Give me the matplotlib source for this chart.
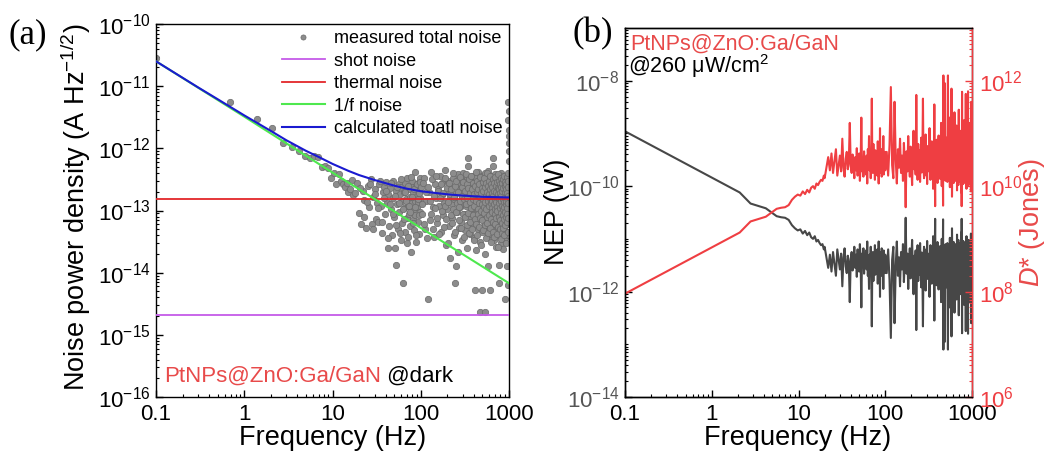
import numpy as np
import matplotlib.pyplot as plt
from matplotlib.ticker import LogLocator, FixedLocator, FuncFormatter, NullFormatter

plt.rcParams['font.family'] = ['Liberation Sans', 'DejaVu Sans']
plt.rcParams['mathtext.fontset'] = 'custom'
plt.rcParams['mathtext.rm'] = 'Liberation Sans'
plt.rcParams['mathtext.it'] = 'Liberation Sans:italic'
plt.rcParams['mathtext.bf'] = 'Liberation Sans:bold'
plt.rcParams['axes.linewidth'] = 1.0

# ---------------- panel (a): noise spectra (log10 values) ----------------
scat_low_f = [0.1, 0.69, 1.38, 2.07, 2.76, 3.45, 4.14, 4.83, 5.52, 6.21, 6.9, 7.59, 8.28,
              8.97, 9.66, 10.35, 11.04, 11.73, 12.42, 13.11, 13.8, 14.49, 15.18, 15.87,
              16.56, 17.25]
scat_low = [-10.55, -11.26, -11.53, -11.68, -11.91, -11.98, -12.05, -12.13, -12.16, -12.12,
            -12.14, -12.30, -12.28, -12.32, -12.47, -12.40, -12.57, -12.41, -12.52, -12.58,
            -12.62, -12.55, -12.71, -12.66, -12.51, -12.75]

# 18..99 Hz, 1 Hz step
scat_mid = [-12.72, -12.55, -13.04, -13.22, -12.68, -12.83, -13.28, -12.60, -12.95, -12.50, -13.22, -12.78, -12.66, -13.13, -12.88,
            -13.18, -12.58, -12.92, -13.36, -12.70, -12.62, -13.05, -12.54, -12.86, -13.60, -12.74, -13.25, -12.64, -12.98, -13.40,
            -12.80, -12.52, -13.10, -13.61, -12.68, -13.87, -12.90, -13.30, -12.58, -13.02, -12.74, -13.48, -12.62, -12.85, -13.20,
            -14.17, -12.70, -12.96, -13.35, -12.56, -12.82, -13.12, -12.48, -12.92, -13.42, -12.66, -13.05, -12.78, -13.25, -12.60,
            -13.66, -12.88, -12.52, -13.15, -12.72, -12.98, -13.32, -12.38, -12.84, -13.08, -12.62, -13.50, -12.76, -12.94, -13.18,
            -12.56, -12.86, -13.38, -12.68, -13.02, -12.80, -12.48]
# 20.5..98.5 Hz, 2 Hz step
scat_mid2 = [-12.64, -13.10, -12.86, -12.58, -13.30, -12.74, -12.96, -12.52, -13.18, -12.80,
             -12.68, -13.44, -12.90, -12.56, -13.06, -12.76, -13.24, -12.62, -12.88, -13.36,
             -12.50, -12.98, -13.14, -12.70, -12.84, -13.52, -12.60, -12.92, -13.02, -12.46,
             -12.78, -13.20, -12.66, -12.94, -13.40, -12.58, -12.82, -13.08, -12.72, -12.54]

# 100..996 Hz, 4 Hz step
scat_high = [-12.62, -13.05, -12.48, -13.30, -12.85, -14.43, -12.70, -13.15, -12.38, -12.95, -13.42, -12.58, -12.80, -13.20, -12.66,
             -12.92, -12.45, -13.35, -12.75, -12.55, -13.08, -12.88, -12.35, -13.55, -12.68, -12.98, -12.52, -13.25, -12.78, -13.76,
             -12.60, -12.90, -13.12, -12.48, -12.82, -13.40, -14.17, -12.72, -13.90, -12.57, -13.02, -12.42, -12.86, -13.28, -12.65,
             -12.95, -12.50, -13.18, -12.76, -13.48, -12.62, -12.40, -13.05, -12.84, -12.55, -13.32, -12.70, -12.92, -13.60, -12.46,
             -12.16, -12.29, -12.88, -13.10, -12.58, -12.78, -13.38, -12.52, -12.98, -12.68, -13.22, -12.44, -12.90, -13.05, -12.62,
             -12.82, -13.45, -12.55, -14.28, -12.74, -13.63, -12.48, -12.96, -13.15, -12.66, -12.38, -13.30, -12.86, -12.58, -13.02,
             -12.72, -13.50, -14.64, -12.90, -12.52, -13.12, -12.80, -14.28, -12.62, -13.35, -12.45, -12.94, -13.08, -12.70, -12.55,
             -13.25, -12.84, -12.40, -13.70, -14.64, -12.76, -12.98, -13.18, -12.60, -12.88, -13.42, -12.50, -12.92, -13.89, -12.68,
             -12.36, -13.06, -12.82, -12.56, -13.28, -12.72, -12.95, -14.28, -12.62, -13.15, -12.48, -12.86, -13.38, -12.70, -12.58,
             -13.00, -12.44, -13.22, -12.78, -12.16, -12.29, -13.10, -12.64, -12.90, -13.48, -12.54, -12.80, -13.05, -12.42, -12.96,
             -12.68, -13.32, -12.58, -12.84, -13.58, -12.74, -12.50, -13.12, -12.92, -12.62, -13.25, -12.46, -12.88, -13.02, -12.70,
             -12.56, -13.40, -13.87, -14.17, -12.78, -12.94, -13.15, -12.52, -12.86, -13.30, -12.66, -12.40, -13.08, -12.82, -13.52,
             -12.60, -12.90, -13.20, -12.48, -12.76, -13.36, -12.64, -12.98, -13.10, -12.54, -12.84, -13.62, -12.72, -12.45, -13.05,
             -12.88, -13.28, -12.58, -12.70, -13.45, -14.43, -12.80, -12.96, -13.18, -12.50, -12.92, -13.34, -12.62, -12.78, -13.08,
             -12.44, -13.90, -12.86, -12.68, -13.22, -12.55, -13.00, -12.74, -13.40, -14.20, -11.26, -11.55, -11.70, -11.92, -12.05]
# 102..998 Hz, 4 Hz step
scat_high2 = [-12.90, -12.55, -13.22, -12.70, -13.45, -12.62, -12.84, -13.05, -12.50, -13.30, -12.76, -12.96, -12.44, -13.12, -12.68,
              -13.38, -12.80, -12.58, -13.00, -12.72, -13.26, -12.48, -12.92, -13.14, -12.64, -12.86, -13.52, -12.56, -12.74, -13.08,
              -12.66, -13.20, -12.40, -12.98, -12.78, -13.34, -12.60, -13.02, -12.52, -12.88, -13.66, -12.70, -12.94, -13.16, -12.46,
              -12.84, -13.28, -12.62, -12.76, -13.06, -12.54, -13.42, -12.82, -12.68, -13.10, -12.42, -12.90, -13.24, -12.58, -12.80,
              -13.04, -12.64, -13.36, -12.50, -12.86, -13.18, -12.72, -12.96, -12.44, -13.30, -12.66, -12.82, -13.08, -12.56, -13.48,
              -12.74, -12.92, -13.14, -12.60, -12.38, -13.22, -12.84, -12.70, -13.40, -12.52, -12.98, -13.06, -12.66, -12.88, -13.26,
              -12.58, -12.78, -13.12, -12.46, -13.00, -12.72, -13.56, -12.64, -12.90, -13.16, -12.54, -12.82, -13.32, -12.68, -12.94,
              -13.04, -12.48, -12.86, -13.24, -12.62, -12.76, -13.44, -12.56, -12.98, -13.10, -12.70, -12.40, -13.20, -12.84, -12.60,
              -13.36, -12.74, -12.92, -12.52, -13.08, -12.66, -13.28, -12.80, -12.44, -13.14, -12.88, -12.58, -13.50, -12.72, -12.96,
              -12.62, -13.02, -12.84, -13.34, -12.50, -12.76, -13.18, -12.68, -12.90, -13.42, -12.56, -12.82, -13.06, -12.46, -12.98,
              -13.22, -12.70, -12.60, -13.12, -12.86, -12.54, -13.38, -12.78, -12.94, -13.00, -12.64, -12.42, -13.26, -12.74, -13.58,
              -12.88, -12.52, -13.10, -12.66, -12.80, -13.30, -12.58, -12.96, -13.16, -12.72, -12.48, -13.04, -12.84, -13.46, -12.62,
              -12.76, -13.20, -12.56, -12.92, -13.36, -12.68, -12.82, -13.08, -12.50, -12.98, -13.28, -12.64, -12.86, -13.14, -12.44,
              -12.94, -13.40, -12.60, -12.78, -13.02, -12.70, -13.24, -12.54, -12.90, -13.52, -12.66, -12.84, -13.10, -12.58, -12.96,
              -13.18, -12.72, -12.46, -13.06, -12.80, -13.34, -12.62, -12.88, -13.12, -12.52, -12.76, -12.40, -11.40, -11.80, -12.20]

shot_f = [0.1, 1000]
shot = [-14.68, -14.68]
thermal_f = [0.1, 1000]
thermal = [-12.82, -12.82]
flicker_f = [0.1, 1, 10, 100, 1000]
flicker = [-10.60, -11.49, -12.39, -13.28, -14.17]
total_f = [0.1, 0.3, 0.5, 1, 2, 3, 5, 7, 10, 15, 20, 30, 50, 70, 100, 200, 300, 500, 1000]
total = [-10.60, -11.02, -11.21, -11.47, -11.72, -11.87, -12.04, -12.14, -12.25, -12.36, -12.43,
         -12.51, -12.60, -12.65, -12.69, -12.74, -12.76, -12.78, -12.79]

# ---------------- panel (b): NEP (log10 W) ----------------
nep_low_f = [0.1, 2.1, 2.8, 3.5, 4.2, 4.9, 5.6, 6.3, 7.0, 7.7, 8.4, 9.1, 9.8, 10.5, 11.2, 11.9,
             12.6, 13.3, 14.0, 14.7, 15.4, 16.1, 16.8, 17.5, 18.2, 18.9, 19.6]
nep_low = [-8.96, -10.12, -10.33, -10.38, -10.42, -10.50, -10.57, -10.59, -10.60, -10.64, -10.74,
           -10.80, -10.84, -10.82, -10.90, -10.85, -10.93, -10.88, -10.97, -11.00, -10.95, -11.05,
           -11.02, -11.08, -11.12, -11.10, -11.20]

# 20..99 Hz, 1 Hz step
nep_mid = [-11.15, -11.35, -11.55, -11.30, -11.62, -11.25, -11.48, -11.70, -11.20, -11.40,
           -11.58, -11.28, -11.90, -11.35, -11.18, -11.52, -11.65, -11.32, -11.45, -12.20,
           -11.38, -11.25, -11.60, -11.42, -11.15, -11.55, -11.30, -11.72, -11.20, -11.48,
           -11.62, -11.10, -11.40, -12.30, -11.28, -11.50, -11.18, -11.66, -11.35, -11.45,
           -11.22, -11.58, -11.05, -11.70, -11.38, -11.95, -11.30, -11.52, -11.15, -11.62,
           -12.66, -11.40, -11.25, -11.80, -11.33, -11.55, -11.12, -11.68, -11.45, -11.28,
           -11.60, -11.20, -11.85, -11.40, -11.05, -11.55, -11.35, -12.10, -11.25, -11.48,
           -11.70, -11.18, -11.42, -11.62, -11.30, -11.95, -11.22, -11.50, -11.38, -11.65]

# 100..996 Hz, 4 Hz step
nep_high = [-11.30, -11.65, -11.20, -11.78, -12.88, -11.40, -11.15, -12.60, -11.52, -11.05, -11.70, -11.35, -11.90, -11.25, -11.58,
            -11.10, -11.82, -11.42, -10.60, -11.66, -11.28, -11.95, -11.48, -11.18, -11.75, -11.38, -11.02, -11.62, -12.05, -11.32,
            -11.55, -11.22, -12.73, -11.45, -11.12, -11.80, -11.36, -11.68, -11.08, -11.50, -11.92, -11.26, -11.60, -12.66, -11.40,
            -11.15, -11.72, -11.34, -11.98, -11.20, -11.56, -11.04, -11.76, -11.42, -11.64, -11.28, -12.10, -11.46, -11.12, -11.70,
            -11.36, -11.85, -11.24, -11.58, -10.95, -11.66, -11.40, -12.55, -11.30, -10.62, -11.74, -11.50, -11.18, -11.88, -11.44,
            -11.06, -11.62, -11.32, -11.96, -11.22, -11.54, -11.80, -11.14, -11.68, -11.38, -12.20, -11.48, -11.00, -11.72, -11.30,
            -11.58, -10.63, -13.10, -11.42, -11.84, -11.20, -11.64, -12.95, -11.34, -11.10, -11.76, -11.46, -11.92, -11.26, -11.56,
            -11.08, -11.70, -13.10, -11.38, -11.82, -11.16, -11.60, -12.30, -11.44, -10.98, -11.66, -11.28, -11.86, -11.50, -11.22,
            -12.85, -11.62, -10.80, -11.36, -11.78, -11.12, -11.54, -12.00, -11.40, -11.06, -11.74, -11.30, -12.40, -11.48, -11.18,
            -11.68, -11.34, -11.94, -11.10, -11.58, -11.24, -12.15, -11.44, -10.92, -11.72, -11.36, -11.84, -11.20, -11.62, -11.02,
            -11.52, -12.45, -11.28, -11.76, -11.14, -11.66, -11.40, -11.96, -11.08, -11.58, -11.32, -12.05, -11.46, -10.88, -11.70,
            -10.62, -11.38, -12.79, -11.52, -11.16, -11.80, -11.30, -11.64, -11.04, -11.90, -11.42, -11.22, -12.25, -11.56, -11.12,
            -11.74, -11.34, -11.98, -11.18, -11.60, -11.06, -11.82, -12.75, -11.44, -11.26, -11.68, -10.95, -11.50, -11.88, -11.20,
            -11.64, -11.36, -12.10, -11.14, -11.54, -12.80, -11.30, -11.76, -11.02, -11.62, -11.40, -11.94, -11.24, -11.56, -11.10,
            -11.70, -11.32, -12.20, -11.48, -11.06, -11.80, -11.38, -11.64, -10.90, -11.52, -12.60, -11.28, -11.74, -11.16, -11.46]

SQRT_AREA = 0.1  # cm, D* = sqrt(A)/NEP

# ---------------- assemble ----------------
scat_f = np.concatenate([scat_low_f, 18 + np.arange(len(scat_mid)), 20.5 + 2 * np.arange(len(scat_mid2)),
                         100 + 4 * np.arange(len(scat_high)), 102 + 4 * np.arange(len(scat_high2))])
scat_v = 10.0 ** np.concatenate([scat_low, scat_mid, scat_mid2, scat_high, scat_high2])
nep_f = np.concatenate([nep_low_f, 20 + np.arange(len(nep_mid)), 100 + 4 * np.arange(len(nep_high))])
nep = 10.0 ** np.concatenate([nep_low, nep_mid, nep_high])
dstar = SQRT_AREA / nep

W, H = 1048, 454
fig = plt.figure(figsize=(W / 100, H / 100), dpi=100)

def px(x, y):
    return x / W, 1 - y / H

RED_TXT = '#e84a4a'
RED = '#ef3e42'
TICK_FS = 16
LABEL_FS = 19.5


def xfmt(v, pos):
    return {0.1: '0.1', 1: '1', 10: '10', 100: '100', 1000: '1000'}.get(round(v, 3), '')


def style_x(ax):
    ax.set_xscale('log')
    ax.set_xlim(0.1, 1000)
    ax.xaxis.set_major_locator(FixedLocator([0.1, 1, 10, 100, 1000]))
    ax.xaxis.set_major_formatter(FuncFormatter(xfmt))
    ax.xaxis.set_minor_locator(LogLocator(base=10, subs=np.arange(2, 10), numticks=20))
    ax.xaxis.set_minor_formatter(NullFormatter())


# ---------- (a) ----------
axa = fig.add_axes([156 / W, 1 - 397 / H, 353 / W, 373 / H])
axa.set_yscale('log')
style_x(axa)
axa.set_ylim(1e-16, 1e-10)
axa.yaxis.set_major_locator(FixedLocator([1e-16, 1e-15, 1e-14, 1e-13, 1e-12, 1e-11, 1e-10]))
axa.yaxis.set_minor_locator(LogLocator(base=10, subs=np.arange(2, 10), numticks=20))
axa.yaxis.set_minor_formatter(NullFormatter())

axa.plot(scat_f, scat_v, 'o', ms=4.6, mfc='#8c8c8c', mec='#6a6a6a', mew=0.5,
         label='measured total noise', zorder=2)
axa.plot(shot_f, 10.0 ** np.array(shot), color='#c55ae8', lw=1.3, label='shot noise', zorder=3)
axa.plot(thermal_f, 10.0 ** np.array(thermal), color='#e3262a', lw=1.3, label='thermal noise', zorder=3)
axa.plot(flicker_f, 10.0 ** np.array(flicker), color='#4ee84e', lw=1.5, label='1/f noise', zorder=3)
axa.plot(total_f, 10.0 ** np.array(total), color='#1a1ad0', lw=1.5, label='calculated toatl noise', zorder=4)

axa.tick_params(which='both', direction='in', labelsize=TICK_FS)
axa.tick_params(which='major', length=5, width=1)
axa.tick_params(which='minor', length=2.5, width=0.8)
axa.tick_params(axis='x', pad=5)
axa.tick_params(axis='y', pad=4)

axa.legend(loc='upper right', frameon=False, fontsize=13, numpoints=1, handlelength=2.4,
           handletextpad=0.5, labelspacing=0.3, borderaxespad=0.15, borderpad=0.2,
           markerscale=0.8)

t1 = fig.text(*px(164, 382), 'PtNPs@ZnO:Ga/GaN', color=RED_TXT, fontsize=16, va='baseline')
axa.annotate(' @dark', xy=(1, 0), xycoords=t1, va='bottom', ha='left', fontsize=16, color='black')

fig.text(*px(333, 445), 'Frequency (Hz)', fontsize=LABEL_FS, ha='center', va='baseline')
fig.text(*px(76, 207), r'Noise power density (A Hz$^{\mathregular{-1/2}}$)', fontsize=LABEL_FS,
         rotation=90, ha='center', va='center')
fig.text(*px(9, 43), '(a)', fontsize=25, family='Liberation Serif', va='baseline')

# ---------- (b) ----------
axb = fig.add_axes([625 / W, 1 - 397 / H, 347 / W, 369 / H])
axb.set_yscale('log')
style_x(axb)
axb.set_ylim(1e-14, 1e-7)
axb.yaxis.set_major_locator(FixedLocator([1e-14, 1e-12, 1e-10, 1e-8]))
axb.yaxis.set_minor_locator(LogLocator(base=10, subs=np.arange(1, 10), numticks=20))
axb.yaxis.set_minor_formatter(NullFormatter())
axb.plot(nep_f, nep, color='#474747', lw=1.5)

axb2 = axb.twinx()
axb2.set_yscale('log')
axb2.set_ylim(1e6, 1e13)
axb2.yaxis.set_major_locator(FixedLocator([1e6, 1e8, 1e10, 1e12]))
axb2.yaxis.set_minor_locator(LogLocator(base=10, subs=np.arange(1, 10), numticks=20))
axb2.yaxis.set_minor_formatter(NullFormatter())
axb2.plot(nep_f, dstar, color=RED, lw=1.5)
axb2.spines['right'].set_color(RED)

for ax in (axb, axb2):
    ax.tick_params(which='both', direction='in', labelsize=TICK_FS)
    ax.tick_params(which='major', length=5, width=1)
    ax.tick_params(which='minor', length=2.5, width=0.8)
axb.tick_params(axis='x', pad=5)
axb.tick_params(axis='y', pad=4, labelcolor='#555555')
axb2.tick_params(axis='y', which='both', colors=RED, pad=5)

fig.text(*px(630, 50), 'PtNPs@ZnO:Ga/GaN', color=RED_TXT, fontsize=15.5, va='baseline')
fig.text(*px(628, 73), r'@260 μW/cm$^{\mathregular{2}}$', color='black', fontsize=15.5, va='baseline')

fig.text(*px(798, 445), 'Frequency (Hz)', fontsize=LABEL_FS, ha='center', va='baseline')
fig.text(*px(557, 212), 'NEP (W)', fontsize=LABEL_FS, rotation=90, ha='center', va='center')
fig.text(*px(1032, 223), r'$\mathit{D}$* (Jones)', fontsize=LABEL_FS, rotation=90,
         ha='center', va='center', color=RED_TXT)
fig.text(*px(572, 42), '(b)', fontsize=25, family='Liberation Serif', va='baseline')

fig.savefig('out.png', dpi=100)
